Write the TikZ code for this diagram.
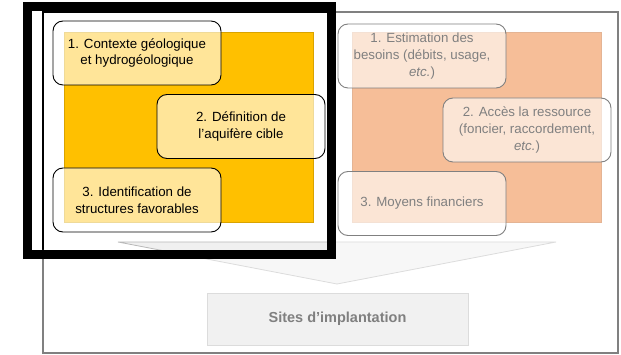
\documentclass[tikz,border=0pt]{standalone}
\usepackage{fontspec}
\setmainfont{Liberation Sans}
\usetikzlibrary{positioning}
\definecolor{goldfill}{RGB}{255,192,0}
\definecolor{orangefill}{RGB}{237,125,49}
\tikzset{stepbox/.style={draw=black,line width=0.9pt,rounded corners=10pt,fill=white,fill opacity=0.6,text opacity=1,align=center,minimum width=168pt,minimum height=64pt,font=\fontsize{13.3}{16.8}\selectfont}}
\tikzset{panel/.style={draw=#1!85!black,line width=0.6pt,fill=#1,minimum width=249pt,minimum height=190pt}}

\begin{document}
\begin{tikzpicture}[x=1pt,y=-1pt]
        \useasboundingbox (0,0) rectangle (621,355);

        % Frame
        \draw[line width=1.3pt] (43,12) rectangle (618,353);

        % Panels
        \node[panel=goldfill] (geo) at (189,127) {};
        \node[panel=orangefill] (need) at (477,127) {};

        % Hydrogeological steps
        \node[stepbox] (g1) at (137,53) {1. Contexte géologique\\et hydrogéologique};
        \node[stepbox] (g2) at (241,126.5) {2. Définition de\\l’aquifère cible};
        \node[stepbox] (g3) at (137,200) {3. Identification de\\structures favorables};

        % Needs steps
        \node[stepbox] (n1) at (422,56) {1. Estimation des\\besoins (débits, usage,\\\textit{etc.})};
        \node[stepbox] (n2) at (527,130) {2. Accès la ressource\\(foncier, raccordement,\\\textit{etc.})};
        \node[stepbox] (n3) at (422,203.5) {3. Moyens financiers};

        % Arrow
        \draw[fill=gray!12,draw=gray!55,line width=0.8pt] (118,242) -- (556,242) -- (337,284) -- cycle;

        \node[draw=gray!55,fill=gray!22,line width=0.8pt,minimum width=261pt,minimum height=52pt,font=\fontsize{14.5}{17}\selectfont\bfseries] (sites) at (337.5,319) {Sites d’implantation};

        % Fade everything but the highlighted part
        \fill[white,fill opacity=0.5,even odd rule] (0,0) rectangle (621,355) (32,11) rectangle (327,250);
        \draw[line width=9pt] (27.5,6.5) rectangle (331,254.5);
\end{tikzpicture}
\end{document}
